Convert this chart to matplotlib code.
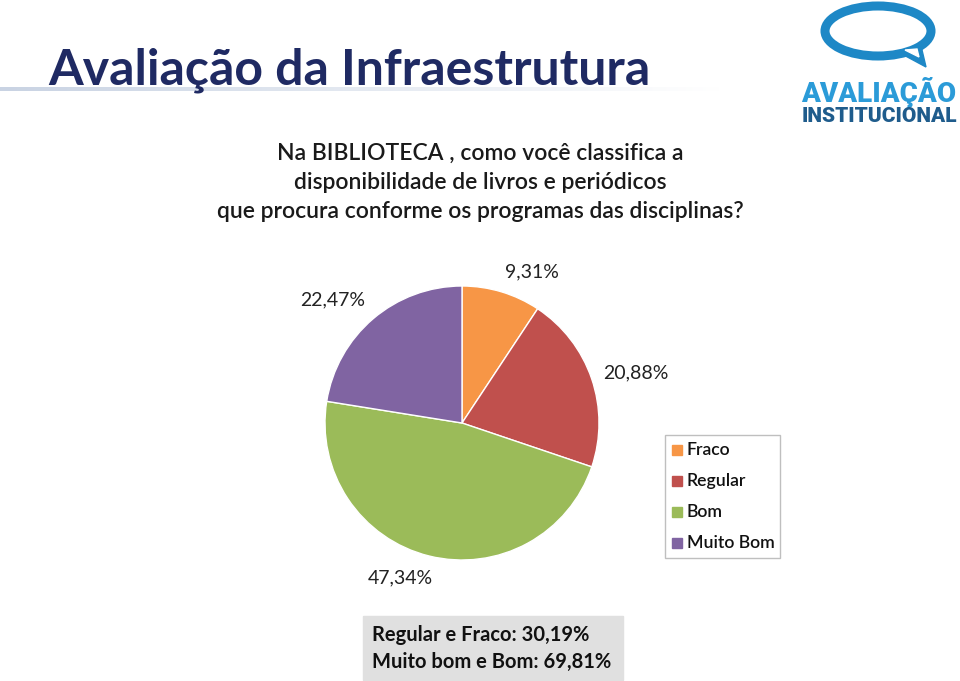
import numpy as np
import matplotlib.pyplot as plt
from matplotlib.patches import Ellipse, Rectangle, Polygon

categorias = ['Fraco', 'Regular', 'Bom', 'Muito Bom']
valores = [9.31, 20.88, 47.34, 22.47]
rotulos = ['9,31%', '20,88%', '47,34%', '22,47%']
cores = ['#F79646', '#C0504D', '#9BBB59', '#8064A2']
resumo = ['Regular e Fraco: 30,19%', 'Muito bom e Bom: 69,81%']

W, H = 960, 681
plt.rcParams['font.family'] = ['Lato', 'DejaVu Sans']

fig = plt.figure(figsize=(W / 100, H / 100), dpi=100)
fig.patch.set_facecolor('white')

def fx(x):
    return x / W

def fy(y):
    return 1 - y / H

# linha degradê sob o título
base = fig.add_axes([0, fy(91), fx(720), 4 / H])
grad = np.linspace(0, 1, 256).reshape(1, -1)
base.imshow(grad, aspect='auto', cmap=plt.matplotlib.colors.LinearSegmentedColormap.from_list(
    'g', ['#c9d3e3', '#ffffff']))
base.axis('off')

fig.text(fx(48), fy(70), 'Avaliação da Infraestrutura', fontsize=36, fontweight='bold',
         color='#1F2A63', va='center', ha='left')

pergunta = ['Na BIBLIOTECA , como você classifica a',
            'disponibilidade de livros e periódicos',
            'que procura conforme os programas das disciplinas?']
for i, linha in enumerate(pergunta):
    fig.text(fx(480), fy(153 + i * 29), linha, fontsize=16.5, fontweight='semibold',
             color='#1a1a1a', ha='center', va='center')

# logo
logo = fig.add_axes([0, 0, 1, 1], facecolor='none')
logo.set_xlim(0, W)
logo.set_ylim(H, 0)
logo.axis('off')
logo.add_patch(Ellipse((878, 31), 106, 50, fill=False, lw=6.5, edgecolor='#1E88C6'))
logo.add_patch(Polygon([[900, 53], [922, 50], [926, 67]], closed=True, color='#1E88C6'))
logo.add_patch(Polygon([[905, 50], [917, 49], [919, 57]], closed=True, color='white'))
logo.text(879, 92, 'AVALIAÇÃO', fontsize=20, fontweight='black', color='#2B9BD8',
          ha='center', va='center', family=['Roboto', 'DejaVu Sans'])
logo.text(879, 117, 'INSTITUCIONAL', fontsize=15, fontweight='black', color='#1F5C8C',
          ha='center', va='center', family=['Roboto', 'DejaVu Sans'])

# pizza
cx, cy, r = 462, 423, 137
ax = fig.add_axes([fx(cx - r), fy(cy + r), 2 * r / W, 2 * r / H])
ax.pie(valores, colors=cores, startangle=90, counterclock=False, radius=1,
       wedgeprops=dict(edgecolor='white', linewidth=1))
ax.set_xlim(-1, 1)
ax.set_ylim(-1, 1)
ax.set_aspect('equal')

pos_rotulos = [(532, 272), (636, 373), (400, 578), (333, 300)]
for (x, y), t in zip(pos_rotulos, rotulos):
    fig.text(fx(x), fy(y), t, fontsize=14, color='#222222', ha='center', va='center')

# legenda
logo.add_patch(Rectangle((665, 435), 115, 123, fill=False, edgecolor='#bfbfbf', lw=1))
for i, (c, n) in enumerate(zip(cores, categorias)):
    y = 450 + i * 31
    logo.add_patch(Rectangle((672, y - 5), 10, 10, color=c))
    logo.text(687, y, n, fontsize=12.7, fontweight='semibold', color='#111111', va='center')

# caixa resumo
logo.add_patch(Rectangle((363, 616), 260, 64, color='#e0e0e0'))
for i, t in enumerate(resumo):
    logo.text(372, 635 + i * 27, t, fontsize=14.5, fontweight='bold', color='#111111',
              va='center', ha='left')

fig.savefig('out.png', dpi=100)
